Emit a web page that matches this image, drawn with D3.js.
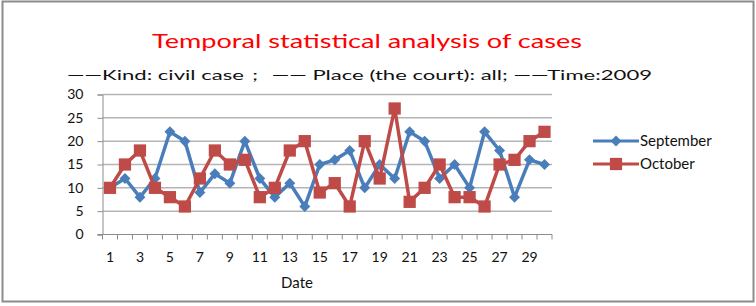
<!DOCTYPE html>
<html>
<head>
<meta charset="utf-8">
<script src="https://cdn.jsdelivr.net/npm/d3@7"></script>
<style>
  body { margin: 0; background: #fff; }
  text { font-family: Lato, "Open Sans", sans-serif; }
</style>
</head>
<body>
<svg width="756" height="306"></svg>
<script>
const dates = d3.range(1, 31);
const september = [10, 12, 8, 12, 22, 20, 9, 13, 11, 20, 12, 8, 11, 6, 15, 16, 18, 10, 15, 12, 22, 20, 12, 15, 10, 22, 18, 8, 16, 15];
const october = [10, 15, 18, 10, 8, 6, 12, 18, 15, 16, 8, 10, 18, 20, 9, 11, 6, 20, 12, 27, 7, 10, 15, 8, 8, 6, 15, 16, 20, 22];
const yTicks = [0, 5, 10, 15, 20, 25, 30];
const xLabels = d3.range(1, 31, 2);

const svg = d3.select("svg");

// outer frame
svg.append("rect")
    .attr("x", 2.5).attr("y", 1.5)
    .attr("width", 751).attr("height", 300)
    .attr("fill", "none")
    .attr("stroke", "#8c8c8c")
    .attr("stroke-width", 2);

svg.append("text")
    .attr("x", 367).attr("y", 48)
    .attr("text-anchor", "middle")
    .attr("fill", "#ff0000")
    .style("font-size", "20px")
    .attr("textLength", 430)
    .attr("lengthAdjust", "spacingAndGlyphs")
    .text("Temporal statistical analysis of cases");

svg.append("text")
    .attr("x", 67).attr("y", 80)
    .attr("fill", "#111")
    .style("font-size", "14px")
    .attr("textLength", 585)
    .attr("lengthAdjust", "spacingAndGlyphs")
    .text("——Kind: civil case；  —— Place (the court): all; ——Time:2009");

const x = d3.scaleBand().domain(dates).range([102.5, 552]);
const y = d3.scaleLinear().domain([0, 30]).range([234.5, 94.5]);

// gridlines
svg.append("g")
    .selectAll("line")
    .data(yTicks.slice(1))
    .join("line")
    .attr("x1", 102.5).attr("x2", 552)
    .attr("y1", d => y(d)).attr("y2", d => y(d))
    .attr("stroke", "#b5b5b5")
    .attr("stroke-width", 1.5);

// y axis
const yAxis = svg.append("g")
    .attr("transform", "translate(102.5,0)")
    .call(d3.axisLeft(y).tickValues(yTicks).tickSize(5).tickPadding(14));
yAxis.select(".domain").attr("stroke", "#8c8c8c");
yAxis.selectAll(".tick line").attr("stroke", "#8c8c8c");
yAxis.selectAll("text").style("font-size", "14px").attr("fill", "#111");

// x axis: ticks between categories
const xg = svg.append("g").attr("transform", `translate(0,${y(0)})`);
xg.append("line")
    .attr("x1", 97.5).attr("x2", 552)
    .attr("stroke", "#8c8c8c");
xg.selectAll(".tk")
    .data(dates.concat([31]))
    .join("line")
    .attr("class", "tk")
    .attr("x1", d => d <= 30 ? x(d) : x(30) + x.bandwidth())
    .attr("x2", d => d <= 30 ? x(d) : x(30) + x.bandwidth())
    .attr("y1", 0).attr("y2", 5)
    .attr("stroke", "#8c8c8c");
xg.selectAll(".lb")
    .data(xLabels)
    .join("text")
    .attr("class", "lb")
    .attr("x", d => x(d) + x.bandwidth() / 2)
    .attr("y", 27)
    .attr("text-anchor", "middle")
    .attr("fill", "#111")
    .style("font-size", "14px")
    .text(d => d);

svg.append("text")
    .attr("x", 297).attr("y", 288)
    .attr("text-anchor", "middle")
    .attr("fill", "#111")
    .style("font-size", "15px")
    .text("Date");

const cx = d => x(d) + x.bandwidth() / 2;
const line = d3.line().x((d, i) => cx(dates[i])).y(d => y(d));

// diamond = square turned 45 degrees
const series = [
    {name: "September", values: september, color: "#4a7ebb", rot: 45, size: 60},
    {name: "October", values: october, color: "#be4b48", rot: 0, size: 150}
];

series.forEach(s => {
    svg.append("path")
        .datum(s.values)
        .attr("d", line)
        .attr("fill", "none")
        .attr("stroke", s.color)
        .attr("stroke-width", 3.5);
    svg.append("g")
        .selectAll("path")
        .data(s.values)
        .join("path")
        .attr("transform", (d, i) => `translate(${cx(dates[i])},${y(d)}) rotate(${s.rot})`)
        .attr("d", d3.symbol().type(d3.symbolSquare).size(s.size))
        .attr("fill", s.color);
});

// legend
const legend = svg.append("g").attr("transform", "translate(593,141)");
series.forEach((s, i) => {
    const g = legend.append("g").attr("transform", `translate(0,${i * 23})`);
    g.append("line").attr("x1", 0).attr("x2", 46)
        .attr("stroke", s.color).attr("stroke-width", 3);
    g.append("path")
        .attr("transform", `translate(23,0) rotate(${s.rot})`)
        .attr("d", d3.symbol().type(d3.symbolSquare).size(s.size))
        .attr("fill", s.color);
    g.append("text")
        .attr("x", 47).attr("y", 5)
        .attr("fill", "#111")
        .style("font-size", "15px")
        .text(s.name);
});
</script>
</body>
</html>
